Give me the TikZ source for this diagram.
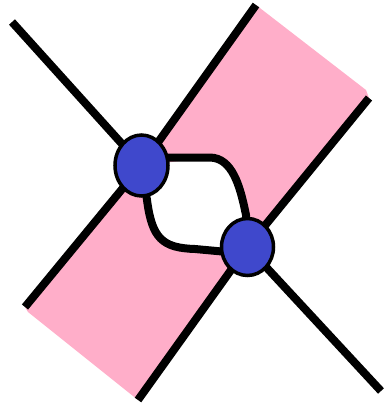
\documentclass[tikz,border=0pt]{standalone}
\usetikzlibrary{shapes.geometric,backgrounds}
\definecolor{bandpink}{HTML}{FFAEC9}
\definecolor{dotblue}{HTML}{3F48CC}
\begin{document}
\begin{tikzpicture}[x=1pt,y=-1pt,
  dot/.style={ellipse,draw=black,line width=3.5pt,fill=dotblue,inner sep=0pt},
  edge/.style={line width=8pt,black},
  band/.style={fill=bandpink,draw=none}]
\useasboundingbox (0,0) rectangle (385,405);
\node[dot,minimum width=53pt,minimum height=61pt] (n1) at (141.5,165.5) {};
\node[dot,minimum width=52pt,minimum height=57pt] (n2) at (247.5,247) {};
\coordinate (tl) at (12,22);
\coordinate (tr1) at (256,5);
\coordinate (tr2) at (369,98);
\coordinate (bl) at (25,307);
\coordinate (bm) at (138,400);
\coordinate (br) at (381,391);
\begin{scope}[on background layer]
  \fill[band] (tr1) -- (366,90) -- (tr2) -- (n2.center) -- (246,215)
     .. controls (240,185) and (232,158) .. (210,157.5) -- (n1.center) -- cycle;
  \fill[band] (bl) -- (n1.center) -- (147,200)
     .. controls (152,238) and (162,248) .. (195,249) -- (n2.center) -- (bm) -- (28,312) -- cycle;
  \draw[edge] (tl) -- (n1.center);
  \draw[edge] (tr1) -- (n1.center);
  \draw[edge] (bl) -- (n1.center);
  \draw[edge] (tr2) -- (n2.center);
  \draw[edge] (bm) -- (n2.center);
  \draw[edge] (br) -- (n2.center);
  \draw[edge] (n1.center) -- (165,157.5) -- (210,157.5)
     .. controls (232,158) and (240,185) .. (246,215) -- (n2.center);
  \draw[edge] (n1.center) -- (147,200)
     .. controls (152,238) and (162,248) .. (195,249) -- (222,251.5) -- (n2.center);
\end{scope}
\end{tikzpicture}
\end{document}
